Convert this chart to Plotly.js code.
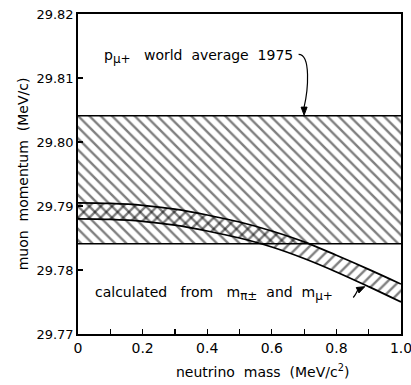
<!DOCTYPE html>
<html>
<head>
<meta charset="utf-8">
<script src="https://cdn.plot.ly/plotly-3.0.1.min.js"></script>
<style>html,body{margin:0;padding:0;background:#fff;}</style>
</head>
<body>
<div id="chart" style="width:411px;height:385px;"></div>
<script>
// neutrino mass (MeV/c^2)
const mass = [0, 0.1, 0.2, 0.3, 0.4, 0.5, 0.6, 0.7, 0.8, 0.9, 1.0];
// calculated band (from m_pi and m_mu): upper and lower edges (MeV/c)
const calcUpper = [29.7905, 29.7904, 29.7901, 29.7895, 29.7886, 29.7875, 29.7861, 29.7844, 29.7823, 29.7801, 29.7778];
const calcLower = [29.7880, 29.7879, 29.7876, 29.7870, 29.7861, 29.7850, 29.7836, 29.7818, 29.7797, 29.7774, 29.7750];
// world average 1975 band
const avgX = [0, 1.0];
const avgLow = [29.7841, 29.7841];
const avgHigh = [29.8041, 29.8041];
// ticks
const xTickVals = [0, 0.2, 0.4, 0.6, 0.8, 1.0];
const xTickText = ['0', '0.2', '0.4', '0.6', '0.8', '1.0'];
const yTickVals = [29.77, 29.78, 29.79, 29.80, 29.81, 29.82];
const yTickText = ['29.77', '29.78', '29.79', '29.80', '29.81', '29.82'];

const lineStyle = {color: '#000', width: 1.7};
const traces = [
  {x: avgX, y: avgLow, mode: 'lines', line: lineStyle, hoverinfo: 'skip', showlegend: false},
  {x: avgX, y: avgHigh, mode: 'lines', line: lineStyle, fill: 'tonexty', fillcolor: 'rgba(0,0,0,0)',
   fillpattern: {shape: '\\', size: 8, solidity: 0.3, fgcolor: '#000', bgcolor: 'rgba(0,0,0,0)', fillmode: 'overlay'},
   hoverinfo: 'skip', showlegend: false},
  {x: mass, y: calcLower, mode: 'lines', line: Object.assign({shape: 'spline'}, lineStyle), hoverinfo: 'skip', showlegend: false},
  {x: mass, y: calcUpper, mode: 'lines', line: Object.assign({shape: 'spline'}, lineStyle), fill: 'tonexty', fillcolor: 'rgba(0,0,0,0)',
   fillpattern: {shape: '/', size: 8, solidity: 0.3, fgcolor: '#000', bgcolor: 'rgba(0,0,0,0)', fillmode: 'overlay'},
   hoverinfo: 'skip', showlegend: false}
];

const fnt = {family: 'DejaVu Sans, sans-serif', size: 13, color: '#000'};
const fntL = {family: 'DejaVu Sans, sans-serif', size: 14, color: '#000'};
const sub = (t) => '<sub><span style="font-size:12px">' + t + '</span></sub>';
const layout = {
  width: 411, height: 385,
  margin: {l: 78, r: 10, t: 14, b: 51},
  paper_bgcolor: '#fff', plot_bgcolor: '#fff',
  font: fnt,
  xaxis: {
    range: [0, 1.0], tickvals: xTickVals, ticktext: xTickText,
    ticks: 'inside', ticklen: 5, tickwidth: 1.2, tickcolor: '#000',
    minor: {dtick: 0.1, ticks: 'inside', ticklen: 5, tickwidth: 1.2, tickcolor: '#000', showgrid: false},
    ticklabeloverflow: 'allow',
    showline: true, linecolor: '#000', linewidth: 1.8, mirror: true,
    showgrid: false, zeroline: false,
    tickfont: fntL
  },
  yaxis: {
    range: [29.77, 29.82], tickvals: yTickVals, ticktext: yTickText,
    ticks: 'inside', ticklen: 5, tickwidth: 1.2, tickcolor: '#000',
    ticklabeloverflow: 'allow',
    showline: true, linecolor: '#000', linewidth: 1.8, mirror: true,
    showgrid: false, zeroline: false,
    tickfont: fnt,
    title: {text: 'muon  momentum  (MeV/c)', font: fntL, standoff: 4}
  },
  shapes: [
    {type: 'path', xref: 'x', yref: 'y',
     path: 'M 0.683,29.8137 C 0.722,29.8137 0.712,29.8080 0.700,29.80545',
     line: {color: '#000', width: 1.2}},
    {type: 'path', xref: 'x', yref: 'y',
     path: 'M 0.6907,29.80545 L 0.700,29.8042 L 0.7093,29.80545 Z',
     fillcolor: '#000', line: {color: '#000', width: 1}},
    {type: 'path', xref: 'x', yref: 'y',
     path: 'M 0.852,29.7757 Q 0.858,29.7760 0.8657,29.77684',
     line: {color: '#000', width: 1.2}},
    {type: 'path', xref: 'x', yref: 'y',
     path: 'M 0.86986,29.77642 L 0.888,29.7774 L 0.86156,29.77726 Z',
     fillcolor: '#000', line: {color: '#000', width: 1}}
  ],
  annotations: [
    {x: 0.075, y: 29.8133, xref: 'x', yref: 'y', xanchor: 'left', yanchor: 'middle', showarrow: false,
     text: 'p' + sub('μ+') + '   world  average  1975', font: fntL},
    {x: 0.045, y: 29.7764, xref: 'x', yref: 'y', xanchor: 'left', yanchor: 'middle', showarrow: false,
     text: 'calculated   from   m' + sub('π±') + '  and  m' + sub('μ+'), font: fntL},
    {x: 0.570, y: -0.115, xref: 'paper', yref: 'paper', xanchor: 'center', yanchor: 'middle', showarrow: false,
     text: 'neutrino  mass  (MeV/c<sup>2</sup>)', font: fntL}
  ]
};

Plotly.newPlot('chart', traces, layout, {displayModeBar: false, staticPlot: true});
</script>
</body>
</html>
